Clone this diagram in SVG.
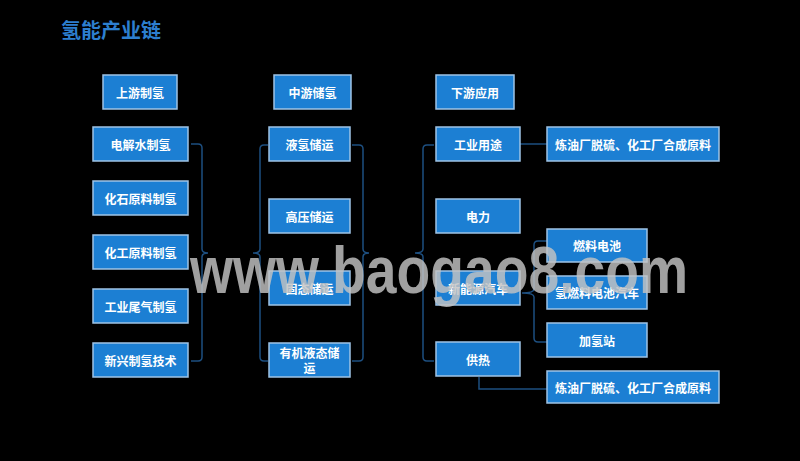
<svg xmlns="http://www.w3.org/2000/svg" width="800" height="461" viewBox="0 0 800 461">
<style>
.bg{fill:#000}
.box{fill:#1c7fd3;stroke:#9fc4e6;stroke-width:1.5}
.t{font-family:"Noto Sans CJK SC","Microsoft YaHei",sans-serif;font-size:12px;font-weight:bold;fill:#fff;text-anchor:middle;dominant-baseline:central}
.c{fill:none;stroke:#1d4f80;stroke-width:1.5}
.title{font-family:"Noto Sans CJK SC",sans-serif;font-size:20px;font-weight:bold;fill:#2d7fcf}
.wm{font-family:"Liberation Sans",Arial,sans-serif;font-size:66px;font-weight:bold;fill:#c4c4c4;opacity:0.82}
</style>
<rect class="bg" x="0" y="0" width="800" height="461"/>
<text class="title" x="61" y="38">氢能产业链</text>
<g id="connectors">
<path class="c" d="M191 144 H198 Q202 144 202 148 V249 Q202 253 208 253 Q202 253 202 257 V357 Q202 361 198 361 H191"/>
<path class="c" d="M268 145 H264 Q260 145 260 149 V249 Q260 253 253 253 Q260 253 260 257 V357 Q260 361 264 361 H268"/>
<path class="c" d="M352 145 H359 Q363 145 363 149 V249 Q363 253 369 253 Q363 253 363 257 V357 Q363 361 359 361 H352"/>
<path class="c" d="M434 145 H427 Q423 145 423 149 V249 Q423 253 415 253 Q423 253 423 257 V357 Q423 361 427 361 H434"/>
<path class="c" d="M520 144 H547"/>
<path class="c" d="M547 241 H538 Q534 241 534 245 V289 Q534 293 522 293 Q534 293 534 297 V338 Q534 342 538 342 H547"/>
<path class="c" d="M479 377 V389 H547"/>
</g>
<g id="n-up"><rect class="box" x="103" y="75" width="74" height="34"/><text class="t" x="140" y="92">上游制氢</text></g>
<g id="n-l1"><rect class="box" x="93" y="127" width="95" height="34"/><text class="t" x="140.5" y="144">电解水制氢</text></g>
<g id="n-l2"><rect class="box" x="93" y="181" width="95" height="34"/><text class="t" x="140.5" y="198">化石原料制氢</text></g>
<g id="n-l3"><rect class="box" x="93" y="235" width="95" height="34"/><text class="t" x="140.5" y="252">化工原料制氢</text></g>
<g id="n-l4"><rect class="box" x="93" y="289" width="95" height="34"/><text class="t" x="140.5" y="306">工业尾气制氢</text></g>
<g id="n-l5"><rect class="box" x="93" y="343" width="95" height="34"/><text class="t" x="140.5" y="360">新兴制氢技术</text></g>
<g id="n-mid"><rect class="box" x="274" y="75" width="77" height="34"/><text class="t" x="312.5" y="92">中游储氢</text></g>
<g id="n-m1"><rect class="box" x="269" y="127" width="81" height="34"/><text class="t" x="309.5" y="144">液氢储运</text></g>
<g id="n-m2"><rect class="box" x="269" y="199" width="81" height="34"/><text class="t" x="309.5" y="216">高压储运</text></g>
<g id="n-m3"><rect class="box" x="269" y="271" width="81" height="34"/><text class="t" x="309.5" y="288">固态储运</text></g>
<g id="n-m4"><rect class="box" x="269" y="343" width="81" height="34"/><text class="t" x="309.5" y="352">有机液态储</text><text class="t" x="309.5" y="367">运</text></g>
<g id="n-down"><rect class="box" x="436" y="75" width="78" height="34"/><text class="t" x="475" y="92">下游应用</text></g>
<g id="n-r1"><rect class="box" x="436" y="127" width="84" height="34"/><text class="t" x="478" y="144">工业用途</text></g>
<g id="n-r2"><rect class="box" x="436" y="199" width="84" height="34"/><text class="t" x="478" y="216">电力</text></g>
<g id="n-r3"><rect class="box" x="436" y="271" width="84" height="34"/><text class="t" x="478" y="288">新能源汽车</text></g>
<g id="n-r4"><rect class="box" x="436" y="342" width="84" height="34"/><text class="t" x="478" y="359">供热</text></g>
<g id="n-f1"><rect class="box" x="547" y="127" width="172" height="34"/><text class="t" x="633" y="144">炼油厂脱硫、化工厂合成原料</text></g>
<g id="n-f2"><rect class="box" x="547" y="229" width="100" height="33"/><text class="t" x="597" y="245.5">燃料电池</text></g>
<g id="n-f3"><rect class="box" x="547" y="276" width="100" height="33"/><text class="t" x="597" y="292.5">氢燃料电池汽车</text></g>
<g id="n-f4"><rect class="box" x="547" y="323" width="100" height="34"/><text class="t" x="597" y="340">加氢站</text></g>
<g id="n-f5"><rect class="box" x="547" y="371" width="172" height="32"/><text class="t" x="633" y="387">炼油厂脱硫、化工厂合成原料</text></g>
<text class="wm" x="190" y="293" textLength="498" lengthAdjust="spacingAndGlyphs">www.baogao8.com</text>
</svg>
